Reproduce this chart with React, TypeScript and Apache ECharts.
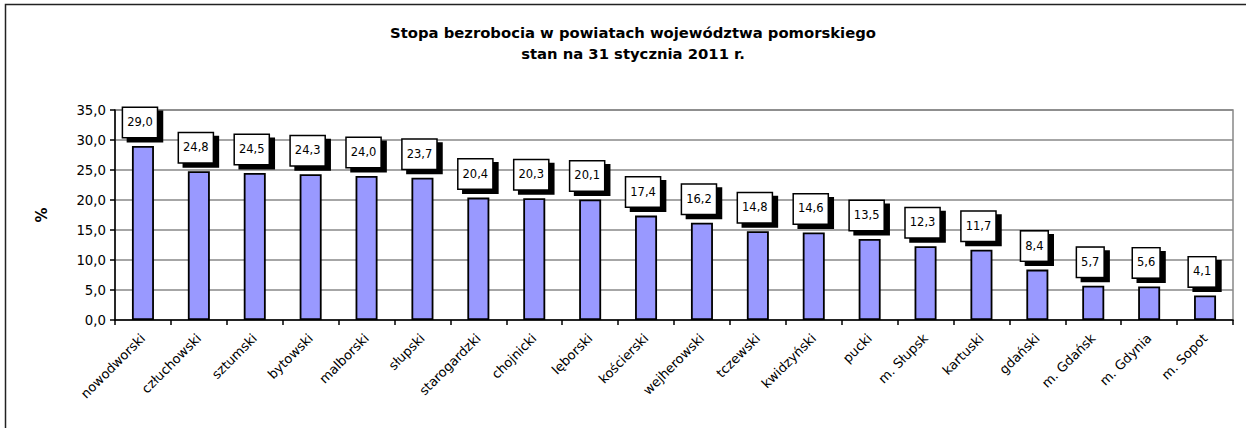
import React, { useEffect, useRef } from "react";
import * as echarts from "echarts";

const categories = [
  "nowodworski", "człuchowski", "sztumski", "bytowski", "malborski", "słupski",
  "starogardzki", "chojnicki", "lęborski", "kościerski", "wejherowski", "tczewski",
  "kwidzyński", "pucki", "m. Słupsk", "kartuski", "gdański", "m. Gdańsk",
  "m. Gdynia", "m. Sopot",
];
const values = [
  29.0, 24.8, 24.5, 24.3, 24.0, 23.7, 20.4, 20.3, 20.1, 17.4, 16.2, 14.8,
  14.6, 13.5, 12.3, 11.7, 8.4, 5.7, 5.6, 4.1,
];
const titleLines = [
  "Stopa bezrobocia w powiatach województwa pomorskiego",
  "stan na 31 stycznia 2011 r.",
];
const yAxisName = "%";

const fmt = (v: number) => v.toFixed(1).replace(".", ",");
const FONT = "DejaVu Sans";

export default function App() {
  const ref = useRef<HTMLDivElement>(null);
  useEffect(() => {
    if (!ref.current) return;
    const chart = echarts.init(ref.current, null, { renderer: "svg" });
    chart.setOption({
      animation: false,
      backgroundColor: "#ffffff",
      textStyle: { fontFamily: FONT },
      title: {
        text: titleLines.join("\n"),
        left: 628,
        top: 17,
        textAlign: "center",
        textStyle: {
          fontFamily: FONT,
          fontWeight: "bold",
          fontSize: 14.8,
          lineHeight: 21,
          color: "#000",
        },
      },
      graphic: [
        {
          type: "rect",
          shape: { x: 5.5, y: 4.5, width: 1400, height: 600 },
          style: { fill: "none", stroke: "#222", lineWidth: 1.5 },
          silent: true,
        },
      ],
      grid: {
        left: 115,
        right: 13,
        top: 110,
        bottom: 108,
        show: true,
        borderColor: "#888",
        borderWidth: 1.5,
        backgroundColor: "transparent",
      },
      xAxis: {
        type: "category",
        data: categories,
        boundaryGap: true,
        axisLine: { lineStyle: { color: "#000", width: 1.5 } },
        axisTick: { show: true, length: 5, alignWithLabel: false, lineStyle: { color: "#000", width: 1.5 } },
        axisLabel: {
          interval: 0,
          rotate: 45,
          margin: 16,
          fontSize: 13,
          color: "#000",
          fontFamily: FONT,
        },
      },
      yAxis: {
        type: "value",
        min: 0,
        max: 35,
        interval: 5,
        name: yAxisName,
        nameLocation: "middle",
        nameRotate: 90,
        nameGap: 66,
        nameTextStyle: { fontFamily: FONT, fontWeight: "bold", fontSize: 15, color: "#000" },
        axisLine: { show: true, lineStyle: { color: "#000", width: 1.5 } },
        axisTick: { show: true, length: 5, lineStyle: { color: "#000", width: 1.5 } },
        axisLabel: {
          formatter: (v: number) => fmt(v),
          fontSize: 13.3,
          margin: 9,
          color: "#000",
          fontFamily: FONT,
        },
        splitLine: { show: true, lineStyle: { color: "#888", width: 1.5 } },
      },
      series: [
        {
          type: "bar",
          data: values,
          barWidth: 22,
          itemStyle: { color: "#9999FF", borderColor: "#000", borderWidth: 1.8 },
          label: {
            show: true,
            position: "top",
            distance: 9,
            offset: [-3, 0],
            formatter: (p: any) => fmt(p.value),
            fontFamily: FONT,
            fontSize: 11.5,
            color: "#000",
            backgroundColor: "#fff",
            borderColor: "#000",
            borderWidth: 1.5,
            padding: [8, 4, 9, 4],
            shadowColor: "#000",
            shadowOffsetX: 5,
            shadowOffsetY: 4,
            shadowBlur: 0,
          },
        },
      ],
    });
    return () => chart.dispose();
  }, []);
  return (
    <div
      ref={ref}
      style={{ position: "absolute", left: 0, top: 0, width: 1246, height: 428, background: "#fff" }}
    />
  );
}
